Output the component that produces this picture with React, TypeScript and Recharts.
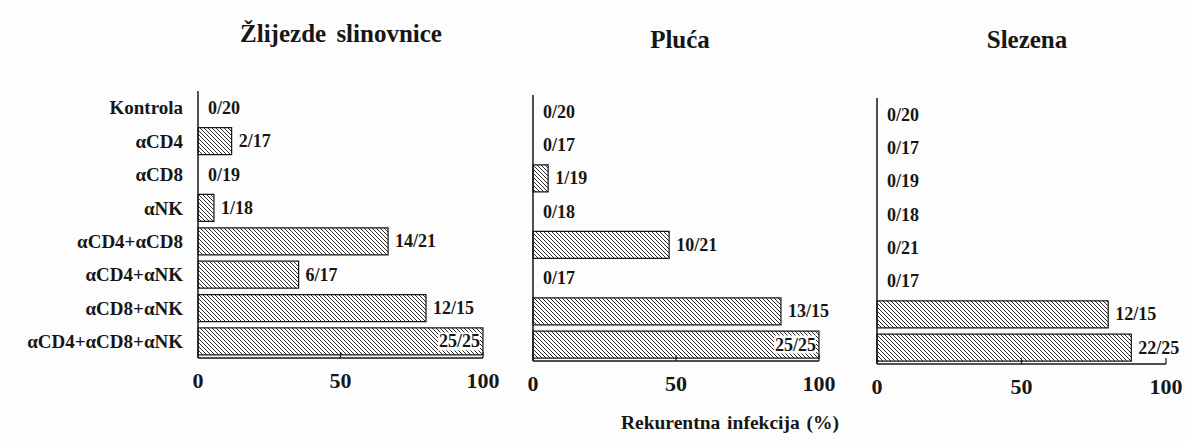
import React from "react";
import { BarChart, Bar, XAxis, YAxis, LabelList, Cell, ReferenceLine } from "recharts";

const groups = [
  "Kontrola",
  "αCD4",
  "αCD8",
  "αNK",
  "αCD4+αCD8",
  "αCD4+αNK",
  "αCD8+αNK",
  "αCD4+αCD8+αNK",
];

const panelTitles = ["Žlijezde slinovnice", "Pluća", "Slezena"];

// % recurrent infection
const salivaryPct = [0, 11.8, 0, 5.6, 66.7, 35.3, 80, 100];
const lungPct = [0, 0, 5.3, 0, 47.6, 0, 86.7, 100];
const spleenPct = [0, 0, 0, 0, 0, 0, 80, 88];

const salivaryLabels = ["0/20", "2/17", "0/19", "1/18", "14/21", "6/17", "12/15", "25/25"];
const lungLabels = ["0/20", "0/17", "1/19", "0/18", "10/21", "0/17", "13/15", "25/25"];
const spleenLabels = ["0/20", "0/17", "0/19", "0/18", "0/21", "0/17", "12/15", "22/25"];

const xTicks = [0, 50, 100];
const axisTitle = "Rekurentna infekcija (%)";

const FONT = '"Liberation Serif", "Times New Roman", serif';
const INK = "#161616";

function buildRows(pct: number[], labels: string[]) {
  return groups.map((name, i) => ({ name, pct: pct[i], label: labels[i] }));
}

const panels = [
  { rows: buildRows(salivaryPct, salivaryLabels), left: 0, width: 520, yWidth: 190, margin: { top: 91, right: 37, bottom: 45, left: 8 } },
  { rows: buildRows(lungPct, lungLabels), left: 500, width: 360, yWidth: 0, margin: { top: 95, right: 41, bottom: 42, left: 33 } },
  { rows: buildRows(spleenPct, spleenLabels), left: 850, width: 335, yWidth: 0, margin: { top: 98, right: 19, bottom: 39, left: 27 } },
];

// count label next to each bar; a full bar carries it inside its end
const renderCount = (props: any) => {
  const { x, y, width, height, value } = props;
  const [n, d] = String(value).split("/");
  const cy = y + height / 2;
  const textProps = {
    dominantBaseline: "central" as const,
    fontFamily: FONT,
    fontWeight: "bold",
    fontSize: 18,
    fill: INK,
  };
  if (n === d) {
    const tx = x + width - 3;
    return (
      <g>
        <rect x={tx - 42} y={cy - 9} width={42} height={18} fill="#fff" />
        <text x={tx} y={cy} textAnchor="end" {...textProps}>
          {value}
        </text>
      </g>
    );
  }
  const tx = n === "0" ? x + 10 : x + width + 7;
  return (
    <text x={tx} y={cy} textAnchor="start" {...textProps}>
      {value}
    </text>
  );
};

function Panel({ p, idx }: { p: (typeof panels)[number]; idx: number }) {
  return (
    <div style={{ position: "absolute", left: p.left, top: 0 }}>
      <BarChart width={p.width} height={443} data={p.rows} layout="vertical" margin={p.margin} barCategoryGap="10%">
        <defs>
          <pattern id={`hatch${idx}`} width="4" height="4" patternUnits="userSpaceOnUse">
            <rect width="4" height="4" fill="#fff" />
            <path d="M0,0 L4,4 M-1,3 L1,5 M3,-1 L5,1" stroke={INK} strokeWidth="0.9" />
          </pattern>
        </defs>
        <XAxis
          type="number"
          domain={[0, 100]}
          ticks={xTicks}
          height={40}
          axisLine={{ stroke: INK, strokeWidth: 1.5 }}
          tickLine={{ stroke: INK, strokeWidth: 1.2 }}
          tickSize={-6}
          tickMargin={20}
          tick={{ fill: INK, fontFamily: FONT, fontWeight: "bold", fontSize: 22 }}
        />
        <YAxis
          type="category"
          dataKey="name"
          width={p.yWidth}
          axisLine={false}
          tickLine={false}
          tickSize={0}
          tickMargin={15}
          tick={idx === 0 ? { fill: INK, fontFamily: FONT, fontWeight: "bold", fontSize: 19 } : false}
        />
        <Bar
          dataKey="pct"
          fill={`url(#hatch${idx})`}
          stroke={INK}
          strokeWidth={1.2}
          minPointSize={1}
          isAnimationActive={false}
        >
          {p.rows.map((r, i) => (
            <Cell key={i} fillOpacity={r.pct === 0 ? 0 : 1} strokeOpacity={r.pct === 0 ? 0 : 1} />
          ))}
          <LabelList dataKey="label" content={renderCount} />
        </Bar>
        <ReferenceLine x={0} stroke={INK} strokeWidth={1.5} />
      </BarChart>
    </div>
  );
}

const titleStyle: React.CSSProperties = {
  position: "absolute",
  transform: "translate(-50%, -50%)",
  fontFamily: FONT,
  fontWeight: "bold",
  fontSize: 25,
  color: INK,
  whiteSpace: "pre",
  wordSpacing: 4,
};

export default function App() {
  return (
    <div style={{ position: "absolute", left: 0, top: 0, width: 1185, height: 443, background: "#fdfdfd", overflow: "hidden" }}>
      {panels.map((p, i) => (
        <Panel key={i} p={p} idx={i} />
      ))}
      <div style={{ ...titleStyle, left: 341, top: 34 }}>{panelTitles[0]}</div>
      <div style={{ ...titleStyle, left: 680, top: 40 }}>{panelTitles[1]}</div>
      <div style={{ ...titleStyle, left: 1027, top: 40 }}>{panelTitles[2]}</div>
      <div style={{ ...titleStyle, left: 730, top: 423, fontSize: 19.5, wordSpacing: 2 }}>{axisTitle}</div>
    </div>
  );
}
